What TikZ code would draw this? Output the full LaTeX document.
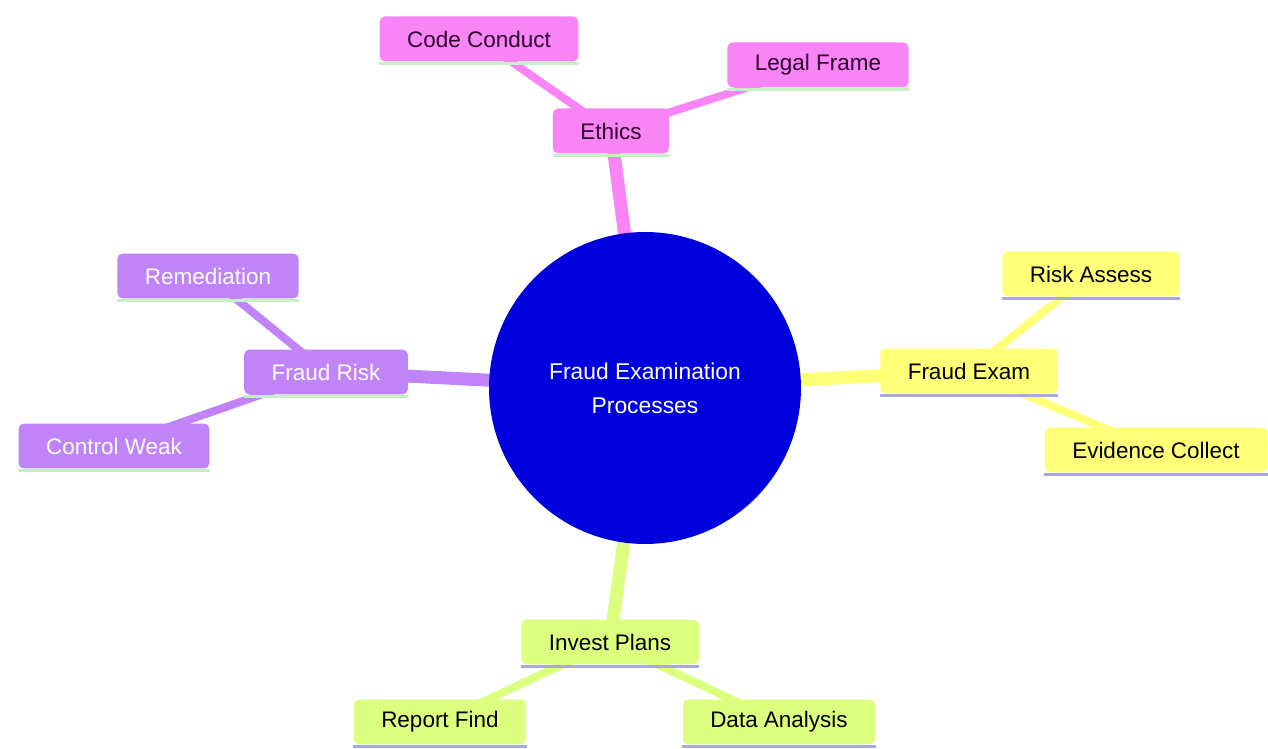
\documentclass[tikz,border=0pt]{standalone}
\usepackage{fontspec}
\setmainfont{Liberation Sans}
\usepackage{tikz}
\usetikzlibrary{positioning, backgrounds}
\definecolor{rootblue}{HTML}{0000DC}
\definecolor{ethicspink}{HTML}{F984F5}
\definecolor{riskpurple}{HTML}{C084F8}
\definecolor{examyellow}{HTML}{FFFF78}
\definecolor{plangreen}{HTML}{DDFF80}
\definecolor{mintline}{HTML}{C4F0C4}
\definecolor{lavline}{HTML}{A8A8DC}
\definecolor{plumtext}{HTML}{2E002E}

\tikzset{
    topic/.style={rectangle, rounded corners=3pt, minimum height=0.9cm,
        inner xsep=0.55cm, font=\fontsize{12.8}{15}\selectfont},
    branch/.style={line width=0.26cm},
    twig/.style={line width=0.16cm},
}

\begin{document}
\begin{tikzpicture}[x=0.02cm, y=-0.02cm]
    \useasboundingbox (0,0) rectangle (1268,749);

    % ── root ──────────────────────────────────────────────────────────
    \node[circle, fill=rootblue, minimum size=6.24cm, text=white, align=center,
          font=\fontsize{13}{19.5}\selectfont] (root) at (645,388)
          {Fraud Examination\\Processes};

    % ── Ethics ────────────────────────────────────────────────────────
    \node[topic, fill=ethicspink, text=plumtext] (ethics) at (611,131) {Ethics};
    \node[topic, fill=ethicspink, text=plumtext] (conduct) at (479,39) {Code Conduct};
    \node[topic, fill=ethicspink, text=plumtext] (legal) at (818,65) {Legal Frame};

    % ── Fraud Exam ────────────────────────────────────────────────────
    \node[topic, fill=examyellow, text=black] (exam) at (969,371) {Fraud Exam};
    \node[topic, fill=examyellow, text=black] (assess) at (1091,274) {Risk Assess};
    \node[topic, fill=examyellow, text=black] (evidence) at (1156,450) {Evidence Collect};

    % ── Invest Plans ──────────────────────────────────────────────────
    \node[topic, fill=plangreen, text=black] (plans) at (610,642) {Invest Plans};
    \node[topic, fill=plangreen, text=black] (report) at (440,722) {Report Find};
    \node[topic, fill=plangreen, text=black] (analysis) at (779,722) {Data Analysis};

    % ── Fraud Risk ────────────────────────────────────────────────────
    \node[topic, fill=riskpurple, text=white] (risk) at (326,372) {Fraud Risk};
    \node[topic, fill=riskpurple, text=white] (remedy) at (208,276) {Remediation};
    \node[topic, fill=riskpurple, text=white] (weak) at (114,446) {Control Weak};

    % bottom lines of the boxes
    \foreach \n/\c in {ethics/mintline, conduct/mintline, legal/mintline,
                       risk/mintline, remedy/mintline, weak/mintline,
                       exam/lavline, assess/lavline, evidence/lavline,
                       plans/lavline, report/lavline, analysis/lavline}{
        \draw[\c, line width=0.06cm] ([yshift=-0.8pt]\n.south west) -- ([yshift=-0.8pt]\n.south east);
    }

    % ── links ─────────────────────────────────────────────────────────
    \begin{scope}[on background layer]
        \draw[branch, ethicspink] (root.center) -- (ethics.center);
        \draw[branch, examyellow] (root.center) -- (exam.center);
        \draw[branch, plangreen] (root.center) -- (plans.center);
        \draw[branch, riskpurple] (root.center) -- (risk.center);
        \draw[twig, ethicspink] (ethics.center) -- (conduct.center);
        \draw[twig, ethicspink] (ethics.center) -- (legal.center);
        \draw[twig, examyellow] (exam.center) -- (assess.center);
        \draw[twig, examyellow] (exam.center) -- (evidence.center);
        \draw[twig, plangreen] (plans.center) -- (report.center);
        \draw[twig, plangreen] (plans.center) -- (analysis.center);
        \draw[twig, riskpurple] (risk.center) -- (remedy.center);
        \draw[twig, riskpurple] (risk.center) -- (weak.center);
    \end{scope}
\end{tikzpicture}
\end{document}
